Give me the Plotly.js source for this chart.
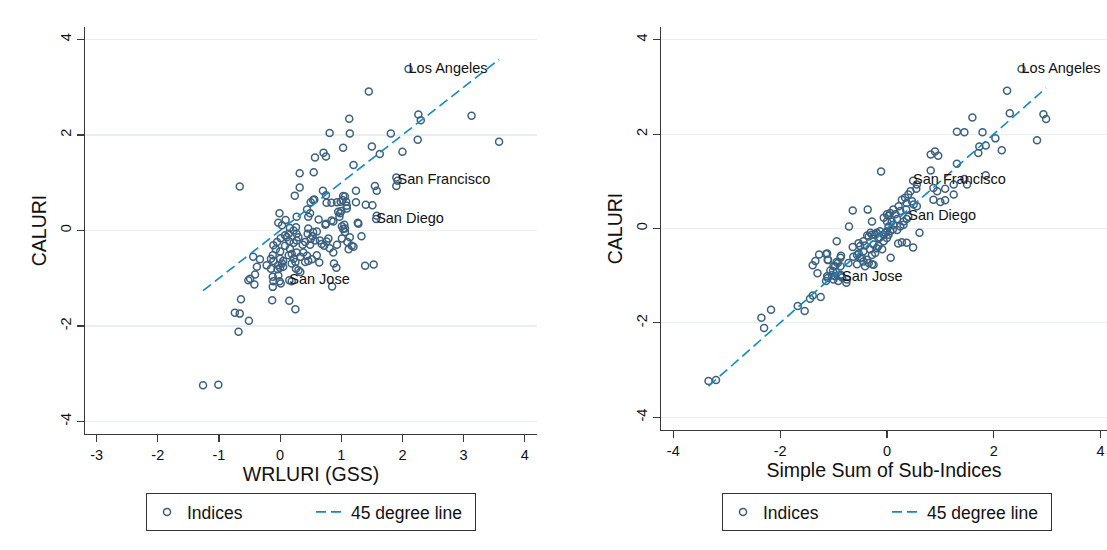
<!DOCTYPE html>
<html>
<head>
<meta charset="utf-8">
<script src="https://cdn.plot.ly/plotly-3.0.1.min.js"></script>
<style>html,body{margin:0;padding:0;background:#fff;}#chart{width:1107px;height:550px;}</style>
</head>
<body>
<div id="chart"></div>
<script>
// Labelled cities come first in each panel's arrays
const cityNames = ['Los Angeles', 'San Francisco', 'San Diego', 'San Jose'];

// Left panel: WRLURI (GSS) vs CALURI
const wrluriX = [2.10, 1.92, 1.57, 0.15,
  1.45, 1.13, 1.14, 0.81, 1.81, 2.26, 2.30, 3.13, 3.58, 2.25, 1.03, 1.50, 1.63, 2.00, 0.71, 0.75, 0.57, 1.20, 0.32, 0.55,
  1.90, 1.90, -0.66, 0.32, 0.24, 0.70, 0.75, 0.54, 0.50, 0.56, 0.76, 0.84, 0.93, 0.99, 1.03, 1.06, 1.02, 1.08, 1.24, 1.55, 1.58, 1.24, 1.40, 1.51, 1.09,
  1.58, -0.01, -0.03, 0.09, 0.27, 0.44, 0.49, 0.46, 0.63, 0.75, 0.84, 0.87, 0.95, 0.98, 1.00, 0.97, 1.09, 1.05, 1.03, 1.06, 1.27, 1.33, 1.14, 1.12, 1.17, 1.20, 1.10,
  1.39, 1.53, 0.88, 0.92, 0.85, 0.03, 0.26, 0.16, 0.22, 0.14, 0.27, 0.46, 0.45, 0.54, 0.60, 0.74, 1.01, 1.06, 1.28, 1.01, 0.93, 0.87, 0.79, 0.76, 0.65, 0.72, 0.81, 0.68,
  0.53, 0.50, 0.57, 0.49, 0.41, 0.37, 0.30, 0.27, 0.22, 0.15, 0.11, 0.08, 0.01, -0.05, -0.11, -0.07, 0.00, 0.08, 0.16, 0.38, 0.44, 0.33, 0.27, 0.19, 0.14, 0.22, 0.25, 0.19,
  0.00, 0.05, 0.03, -0.03, 0.05, 0.00, -0.15, -0.11, -0.22, -0.15, -0.04, -0.12, -0.33, -0.44, -0.38, -0.41, -0.52, -0.49, -0.42, -0.12, -0.11, -0.12, -0.03, -0.01, 0.01,
  0.19, 0.26, 0.30, 0.33, 0.60, 0.64, 0.52, 0.46, 0.41, -0.64, -0.13, 0.15, 0.25, -0.74, -0.66, -0.51, -0.68, -1.26, -1.01];
const wrluriY = [3.38, 1.04, 0.24, -1.04,
  2.91, 2.34, 2.03, 2.04, 2.03, 2.43, 2.31, 2.40, 1.86, 1.90, 1.73, 1.76, 1.60, 1.65, 1.63, 1.55, 1.53, 1.37, 1.20, 1.22,
  1.11, 0.93, 0.92, 0.90, 0.73, 0.83, 0.74, 0.64, 0.59, 0.65, 0.58, 0.58, 0.59, 0.60, 0.72, 0.71, 0.64, 0.60, 0.83, 0.93, 0.83, 0.59, 0.54, 0.53, 0.52,
  0.31, 0.36, 0.16, 0.22, 0.29, 0.44, 0.36, 0.29, 0.23, 0.14, 0.21, 0.19, 0.39, 0.36, 0.41, 0.29, 0.46, 0.12, 0.03, -0.03, 0.16, -0.12, -0.14, -0.39, -0.32, -0.34, -0.24,
  -0.74, -0.71, -0.69, -0.78, -1.17, 0.11, 0.07, 0.05, 0.00, -0.07, -0.07, 0.04, -0.07, -0.03, -0.02, 0.12, 0.09, 0.04, 0.14, -0.17, -0.30, -0.46, -0.17, -0.23, -0.21, -0.32, -0.37, -0.28,
  -0.12, -0.18, -0.21, -0.30, -0.24, -0.30, -0.14, -0.21, -0.26, -0.23, -0.14, -0.10, -0.16, -0.24, -0.31, -0.39, -0.44, -0.32, -0.38, -0.46, -0.53, -0.55, -0.46, -0.49, -0.52, -0.59, -0.66, -0.69,
  -0.59, -0.64, -0.69, -0.73, -0.76, -0.78, -0.59, -0.64, -0.73, -0.80, -0.81, -0.52, -0.60, -0.55, -0.76, -0.92, -1.04, -1.01, -1.13, -0.97, -1.06, -1.18, -0.94, -1.06, -1.11,
  -1.06, -0.80, -0.83, -0.87, -0.52, -0.67, -0.60, -0.64, -0.66, -1.44, -1.46, -1.47, -1.65, -1.72, -1.74, -1.89, -2.12, -3.24, -3.23];

// Right panel: Simple Sum of Sub-Indices vs CALURI
const simpleSumX = [2.52, 0.49, 0.40, -0.84,
  2.25, 2.30, 2.93, 2.98, 1.60, 1.31, 1.45, 1.79, 2.03, 2.81, 1.73, 1.85, 1.71, 2.15, 0.90, 0.82, 0.96, 1.31, -0.11, 0.82, 1.85,
  0.56, 0.55, 0.87, 0.94, 1.09, 1.25, 1.50, 1.45, 0.87, 1.00, 1.09, 1.25, 0.44, 0.40, 0.34, 0.28, 0.47, 0.50, 0.56, 0.37, 0.22, 0.12, 0.06, 0.16, 0.25, 0.36,
  0.37, 0.31, -0.64, -0.36, -0.28, -0.06, 0.03, 0.00, 0.09, 0.19, 0.00, -0.71, 0.61, -0.94, 0.21, 0.28, 0.37, 0.49, 0.07,
  -0.09, -0.16, -0.25, -0.06, 0.00, -0.16, -0.22, -0.31, -0.37, -0.13, -0.03, -0.19, 0.03, 0.06, 0.11,
  -0.64, -0.50, -0.41, -0.32, -0.44, -0.53, -0.63, -0.47, -0.37, -0.28, -0.41, -0.56, -0.72,
  -1.27, -1.12, -1.34, -1.39, -1.10, -0.87, -0.92, -1.00, -0.87, -1.30, -1.12, -1.01, -0.97, -0.87, -0.75, -0.76, -1.00, -1.14,
  -1.39, -1.24, -1.44, -2.17, -2.35, -2.30, -1.67, -1.54, -3.34, -3.20,
  -0.53, -0.44, -0.34, -0.28, -0.19, -0.13, -0.06, 0.00, 0.03, 0.12, 0.19, 0.25, 0.31,
  -0.19, -0.22, -0.28, -0.44, -0.34, -0.25, -0.50, -0.56, -0.86, -0.94, -0.97, -1.06, -1.03, -1.11, -0.91, -0.87, -1.14, -1.11];
const simpleSumY = [3.38, 1.01, 0.25, -1.04,
  2.92, 2.44, 2.42, 2.32, 2.35, 2.05, 2.04, 2.04, 1.91, 1.87, 1.74, 1.76, 1.60, 1.66, 1.63, 1.57, 1.54, 1.37, 1.21, 1.23, 1.13,
  0.93, 0.84, 0.86, 0.79, 0.84, 0.93, 0.93, 1.05, 0.61, 0.56, 0.60, 0.72, 0.79, 0.72, 0.65, 0.61, 0.58, 0.51, 0.47, 0.54, 0.47, 0.40, 0.33, 0.30, 0.37, 0.40,
  0.20, 0.15, 0.38, 0.40, 0.15, 0.23, 0.27, 0.15, 0.15, 0.20, 0.30, 0.04, -0.09, -0.27, -0.32, -0.29, -0.30, -0.40, -0.62,
  -0.44, -0.37, -0.34, -0.27, -0.20, -0.20, -0.13, -0.09, -0.15, -0.06, -0.09, -0.09, -0.13, -0.06, -0.02,
  -0.39, -0.37, -0.36, -0.44, -0.48, -0.53, -0.60, -0.62, -0.66, -0.76, -0.80, -0.76, -0.73,
  -0.55, -0.53, -0.69, -0.78, -0.67, -0.62, -0.73, -0.80, -0.80, -0.95, -1.01, -0.90, -1.01, -1.01, -1.08, -1.15, -1.08, -1.11,
  -1.42, -1.45, -1.49, -1.72, -1.89, -2.11, -1.64, -1.75, -3.23, -3.21,
  -0.31, -0.27, -0.17, -0.13, -0.10, -0.19, -0.13, -0.06, 0.04, 0.08, -0.03, 0.04, 0.08,
  -0.42, -0.52, -0.56, -0.70, -0.73, -0.77, -0.63, -0.56, -0.58, -0.71, -0.80, -0.89, -0.99, -1.05, -1.11, -0.98, -0.54, -0.66];

const xTicksLeft = [-3, -2, -1, 0, 1, 2, 3, 4];
const xTicksRight = [-4, -2, 0, 2, 4];
const yTicks = [-4, -2, 0, 2, 4];

const markerColor = '#3b6080';
const lineColor = '#1189c2';
const FONT = 'Liberation Sans, Arial, sans-serif';

function fortyFive(xs) {
  const lo = Math.min.apply(null, xs), hi = Math.max.apply(null, xs);
  return [lo, hi];
}

const scatterStyle = {
  type: 'scatter', mode: 'markers', name: 'Indices',
  marker: {symbol: 'circle-open', size: 7, color: markerColor, line: {width: 1.5, color: markerColor}},
  cliponaxis: false, hoverinfo: 'x+y'
};
const labelStyle = {
  type: 'scatter', mode: 'text', showlegend: false, text: cityNames,
  textposition: 'middle right', textfont: {family: FONT, size: 14.5, color: '#111'},
  cliponaxis: false, hoverinfo: 'text'
};
const lineStyle = {
  type: 'scatter', mode: 'lines', name: '45 degree line',
  line: {color: lineColor, width: 1.6, dash: '10px,5px'}
};

const leftLine = fortyFive(wrluriX);
const rightLine = fortyFive(simpleSumX);
const nCity = cityNames.length;

const data = [
  Object.assign({}, scatterStyle, {x: wrluriX, y: wrluriY, xaxis: 'x', yaxis: 'y', legend: 'legend'}),
  Object.assign({}, lineStyle, {x: leftLine, y: leftLine, xaxis: 'x', yaxis: 'y', legend: 'legend'}),
  Object.assign({}, labelStyle, {x: wrluriX.slice(0, nCity), y: wrluriY.slice(0, nCity), xaxis: 'x', yaxis: 'y'}),
  Object.assign({}, scatterStyle, {x: simpleSumX, y: simpleSumY, xaxis: 'x2', yaxis: 'y2', legend: 'legend2'}),
  Object.assign({}, lineStyle, {x: rightLine, y: rightLine, xaxis: 'x2', yaxis: 'y2', legend: 'legend2'}),
  Object.assign({}, labelStyle, {x: simpleSumX.slice(0, nCity), y: simpleSumY.slice(0, nCity), xaxis: 'x2', yaxis: 'y2'})
];

const W = 1107, H = 550;
function xAxis(domain, range, ticks, title) {
  return {
    domain: domain, range: range, tickvals: ticks, ticktext: ticks.map(String),
    showgrid: false, zeroline: false, showline: true, linecolor: '#3a3a3a', linewidth: 1.3,
    ticks: 'outside', ticklen: 7, tickcolor: '#3a3a3a', tickwidth: 1.2,
    tickfont: {family: FONT, size: 14.5, color: '#111'},
    title: {text: title, font: {family: FONT, size: 19.5, color: '#111'}, standoff: 3},
    automargin: false, fixedrange: true
  };
}
function yAxis(domain, range, anchor) {
  return {
    domain: domain, range: range, tickvals: yTicks, ticktext: yTicks.map(String), anchor: anchor,
    showgrid: true, gridcolor: '#e6eef1', gridwidth: 1.2, zeroline: false,
    showline: true, linecolor: '#3a3a3a', linewidth: 1.3,
    ticks: 'outside', ticklen: 7, tickcolor: '#3a3a3a', tickwidth: 1.2, tickangle: -90,
    tickfont: {family: FONT, size: 14.5, color: '#111'},
    title: {text: 'CALURI', font: {family: FONT, size: 19.5, color: '#111'}, standoff: 6},
    automargin: false, fixedrange: true
  };
}

const layout = {
  width: W, height: H,
  margin: {l: 0, r: 0, t: 0, b: 0},
  paper_bgcolor: '#ffffff', plot_bgcolor: '#ffffff',
  font: {family: FONT, color: '#111'},
  xaxis: Object.assign(xAxis([85 / W, 537 / W], [-3.19, 4.20], xTicksLeft, 'WRLURI (GSS)'), {anchor: 'y'}),
  yaxis: yAxis([(H - 434) / H, (H - 27) / H], [-4.26, 4.26], 'x'),
  xaxis2: Object.assign(xAxis([661 / W, 1], [-4.23, 4.12], xTicksRight, 'Simple Sum of Sub-Indices'), {anchor: 'y2'}),
  yaxis2: yAxis([(H - 430) / H, (H - 27) / H], [-4.27, 4.27], 'x2'),
  legend: {
    orientation: 'h', x: 311 / W, xanchor: 'center', y: (H - 493) / H, yanchor: 'top',
    bordercolor: '#333', borderwidth: 1, bgcolor: '#fff',
    font: {family: FONT, size: 17.5, color: '#111'}, entrywidth: 119, itemwidth: 30,
    tracegroupgap: 0
  },
  legend2: {
    orientation: 'h', x: 887 / W, xanchor: 'center', y: (H - 493) / H, yanchor: 'top',
    bordercolor: '#333', borderwidth: 1, bgcolor: '#fff',
    font: {family: FONT, size: 17.5, color: '#111'}, entrywidth: 119, itemwidth: 30,
    tracegroupgap: 0
  },
  showlegend: true
};

Plotly.newPlot('chart', data, layout, {staticPlot: true, displayModeBar: false});
</script>
</body>
</html>
